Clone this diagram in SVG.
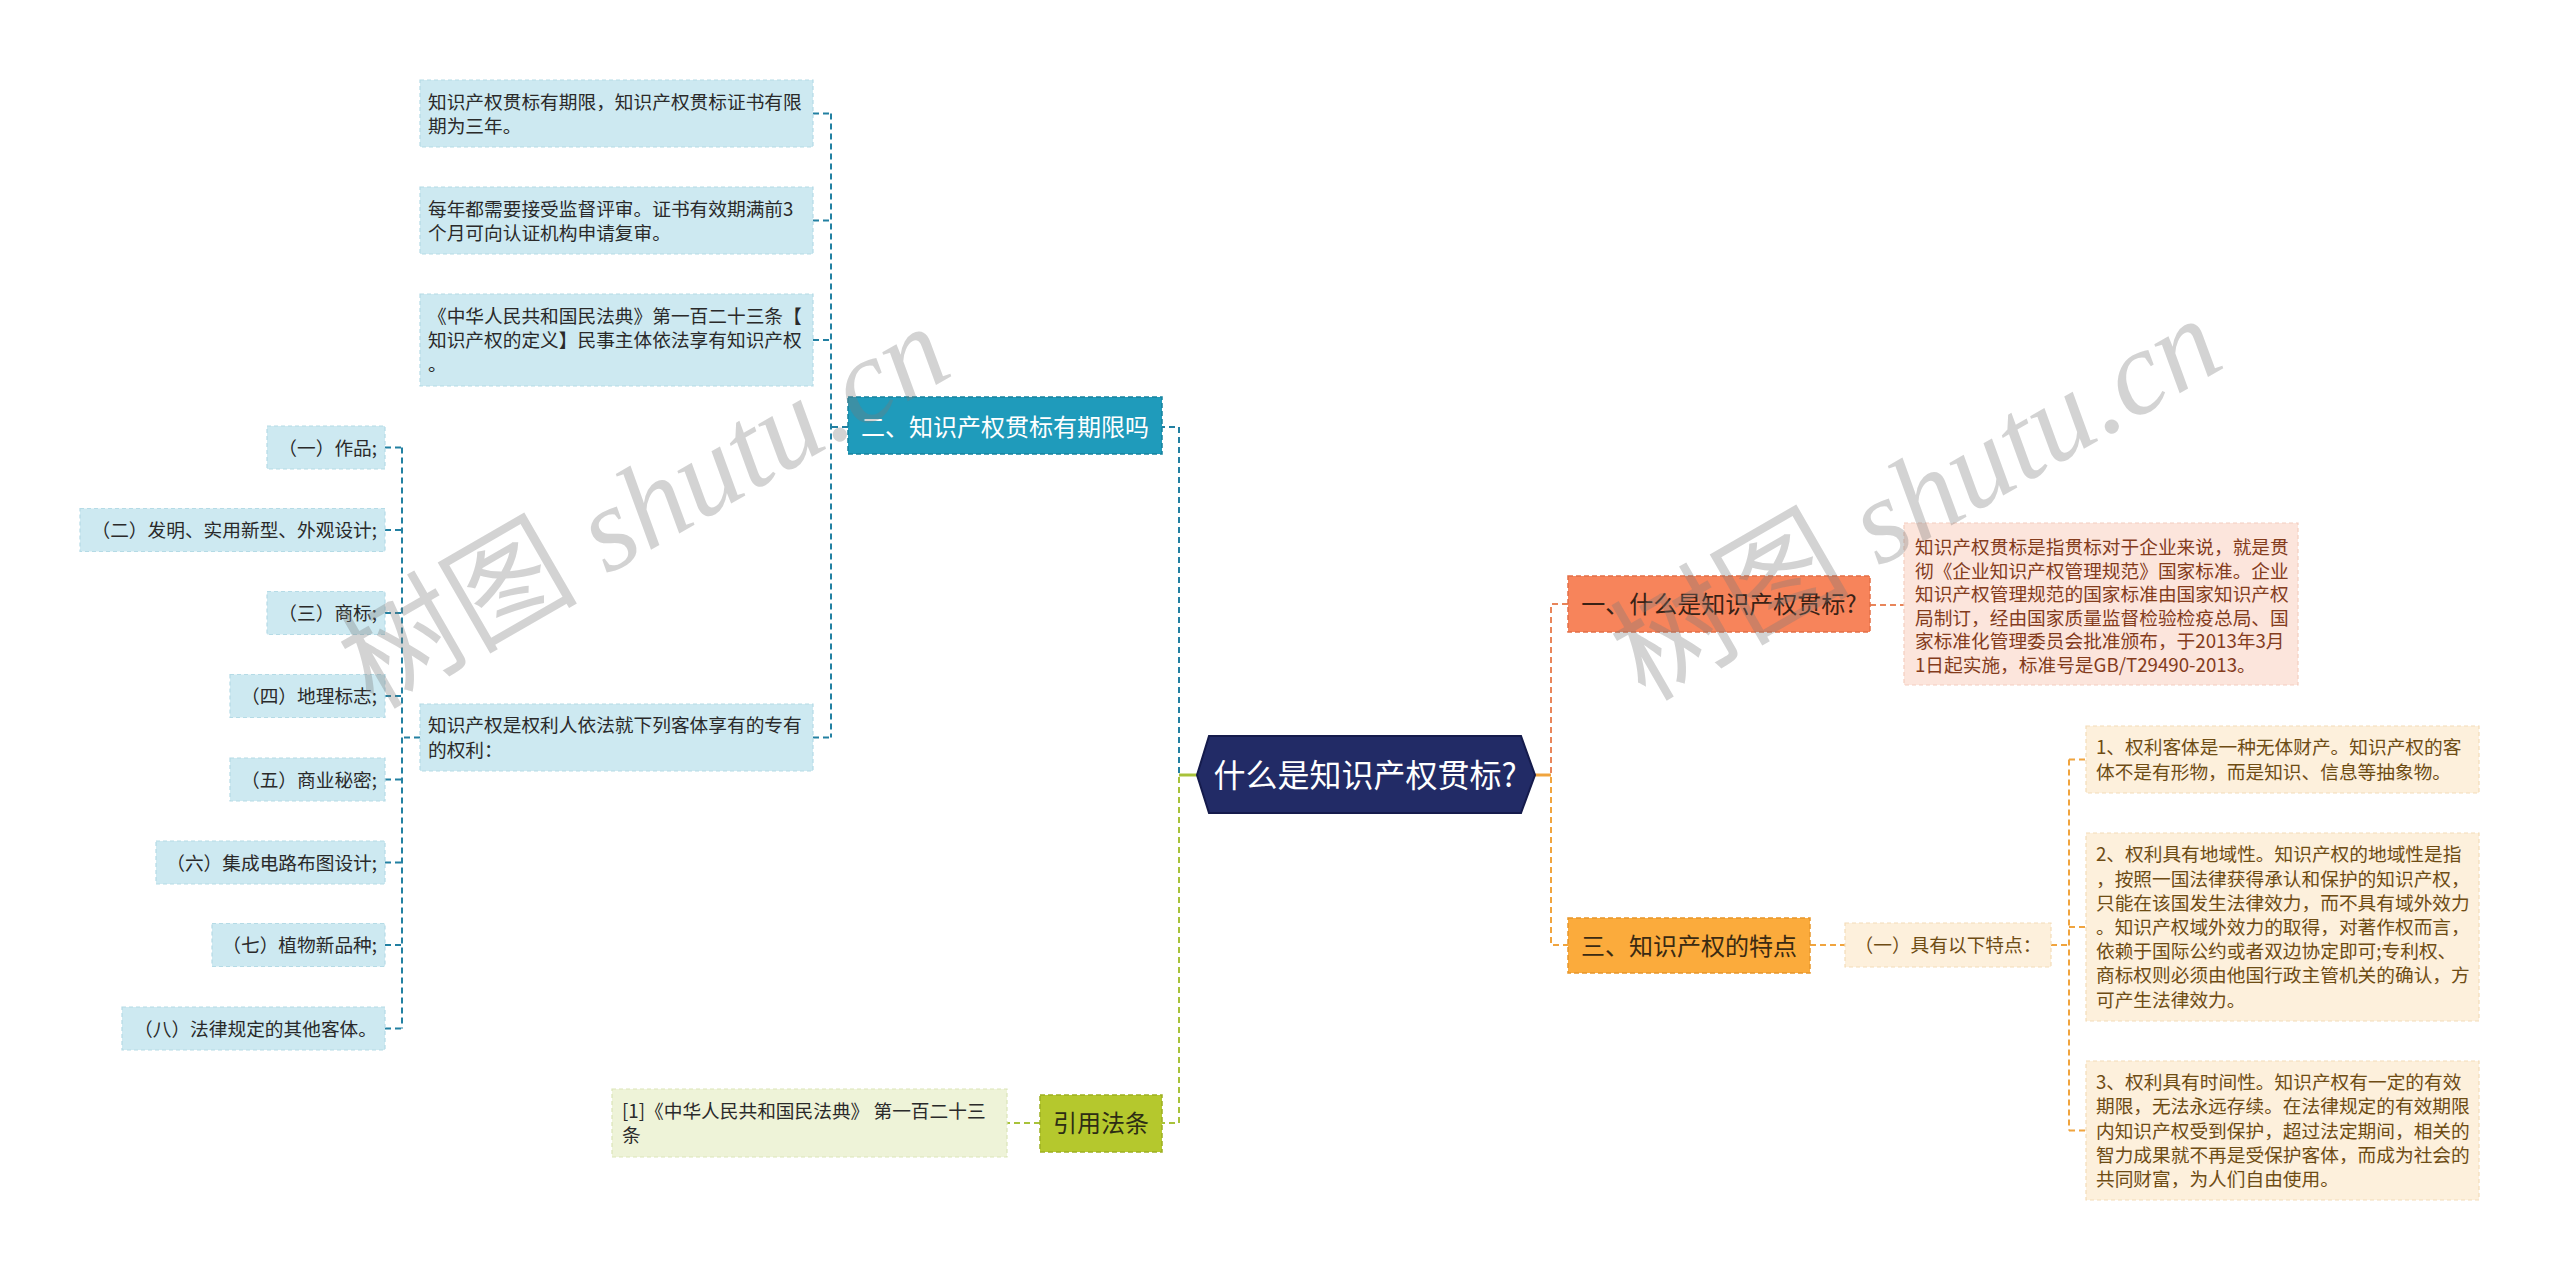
<svg xmlns="http://www.w3.org/2000/svg" width="2560" height="1281" viewBox="0 0 2560 1281">
<style>
text{font-family:"Noto Sans CJK SC","Microsoft YaHei","Liberation Sans",sans-serif}
.leafB{fill:#cde9f1;stroke:#b5dbe6;stroke-width:1.2;stroke-dasharray:4 3}
.leafO{fill:#fce5dc;stroke:#f3cdbf;stroke-width:1.2;stroke-dasharray:4 3}
.leafY{fill:#fdf0dc;stroke:#f4dcb8;stroke-width:1.2;stroke-dasharray:4 3}
.leafG{fill:#eef3d8;stroke:#dbe5b8;stroke-width:1.2;stroke-dasharray:4 3}
.t{font-size:18.7px;fill:#2a2a2a}
.tO{font-size:18.7px;fill:#843c1c}
.tY{font-size:18.7px;fill:#6e4c14}
.br{font-size:24px}
.cB{fill:none;stroke:#2280a2;stroke-width:2;stroke-dasharray:6 4}
.cR{fill:none;stroke:#e8855a;stroke-width:2;stroke-dasharray:6 4}
.cY{fill:none;stroke:#f0a43e;stroke-width:2;stroke-dasharray:6 4}
.cG{fill:none;stroke:#a8c23a;stroke-width:2;stroke-dasharray:6 4}
.wm{font-family:"Liberation Serif","Noto Sans CJK SC",serif;font-size:120px;fill:#7a7a7a;fill-opacity:0.33}
.it{font-style:italic}
</style>
<rect width="2560" height="1281" fill="#ffffff"/>

<g id="connectors">
  <path d="M1197 775 H1179" fill="none" stroke="#a8c23a" stroke-width="3"/>
  <path d="M1535 775 H1551" fill="none" stroke="#f0a43e" stroke-width="3"/>
  <path class="cB" d="M1179 773 V427 H1162"/>
  <path class="cG" d="M1179 777 V1123 H1162"/>
  <path class="cR" d="M1551 773 V604 H1568"/>
  <path class="cY" d="M1551 777 V945 H1568"/>
  <path class="cB" d="M848 427 H831"/>
  <path class="cB" d="M831 113.5 V737.5"/>
  <path class="cB" d="M813 113.5 H831 M813 220.5 H831 M813 340 H831 M813 737.5 H831"/>
  <path class="cB" d="M420 737.5 H402"/>
  <path class="cB" d="M402 447.5 V1028.5"/>
  <path class="cB" d="M385 447.5 H402 M385 530 H402 M385 613 H402 M385 696 H402 M385 779.5 H402 M385 862.5 H402 M385 945 H402 M385 1028.5 H402"/>
  <path class="cG" d="M1040 1123 H1007"/>
  <path class="cR" d="M1870 605 H1904"/>
  <path class="cY" d="M1810 945 H1845"/>
  <path class="cY" d="M2051 945 H2069"/>
  <path class="cY" d="M2069 759.5 V1130.5"/>
  <path class="cY" d="M2069 759.5 H2086 M2069 927 H2086 M2069 1130.5 H2086"/>
</g>

<g id="center">
  <polygon points="1197,775 1209,736 1521,736 1535,775 1521,813 1209,813" fill="#222b66" stroke="#151b4c" stroke-width="2"/>
  <text x="1365" y="787" text-anchor="middle" font-size="32" fill="#ffffff">什么是知识产权贯标?</text>
</g>

<g id="n2">
  <rect x="848" y="397" width="314" height="57" fill="#1f9bbb" stroke="#16839f" stroke-width="1.5" stroke-dasharray="5 3"/>
  <text class="br" x="1005" y="436" text-anchor="middle" fill="#ffffff">二、知识产权贯标有期限吗</text>
</g>

<g id="n2a">
  <rect class="leafB" x="420" y="80" width="393" height="67"/>
  <text class="t" x="428"><tspan x="428" y="108.5">知识产权贯标有期限，知识产权贯标证书有限</tspan><tspan x="428" y="132.7">期为三年。</tspan></text>
</g>
<g id="n2b">
  <rect class="leafB" x="420" y="187" width="393" height="67"/>
  <text class="t" x="428"><tspan x="428" y="215.5">每年都需要接受监督评审。证书有效期满前3</tspan><tspan x="428" y="239.7">个月可向认证机构申请复审。</tspan></text>
</g>
<g id="n2c">
  <rect class="leafB" x="420" y="294" width="393" height="92"/>
  <text class="t" x="428"><tspan x="428" y="322.8">《中华人民共和国民法典》第一百二十三条【</tspan><tspan x="428" y="347">知识产权的定义】民事主体依法享有知识产权</tspan><tspan x="428" y="371.2">。</tspan></text>
</g>
<g id="n2d">
  <rect class="leafB" x="420" y="704" width="393" height="67"/>
  <text class="t" x="428"><tspan x="428" y="732.4">知识产权是权利人依法就下列客体享有的专有</tspan><tspan x="428" y="756.6">的权利：</tspan></text>
</g>

<g id="l1"><rect class="leafB" x="267" y="426" width="118" height="43"/><text class="t" x="377" y="454.5" text-anchor="end">（一）作品;</text></g>
<g id="l2"><rect class="leafB" x="80" y="508.5" width="305" height="43"/><text class="t" x="377" y="537" text-anchor="end">（二）发明、实用新型、外观设计;</text></g>
<g id="l3"><rect class="leafB" x="267" y="591.5" width="118" height="43"/><text class="t" x="377" y="620" text-anchor="end">（三）商标;</text></g>
<g id="l4"><rect class="leafB" x="230" y="674.5" width="155" height="43"/><text class="t" x="377" y="703" text-anchor="end">（四）地理标志;</text></g>
<g id="l5"><rect class="leafB" x="230" y="758" width="155" height="43"/><text class="t" x="377" y="786.5" text-anchor="end">（五）商业秘密;</text></g>
<g id="l6"><rect class="leafB" x="156" y="841" width="229" height="43"/><text class="t" x="377" y="869.5" text-anchor="end">（六）集成电路布图设计;</text></g>
<g id="l7"><rect class="leafB" x="212" y="923.5" width="173" height="43"/><text class="t" x="377" y="952" text-anchor="end">（七）植物新品种;</text></g>
<g id="l8"><rect class="leafB" x="122" y="1007" width="263" height="43"/><text class="t" x="377" y="1035.5" text-anchor="end">（八）法律规定的其他客体。</text></g>

<g id="cite">
  <rect x="1040" y="1095" width="122" height="57" fill="#b5c82d" stroke="#9db021" stroke-width="1.5" stroke-dasharray="5 3"/>
  <text class="br" x="1101" y="1132" text-anchor="middle" fill="#2d2d14">引用法条</text>
</g>
<g id="citeLeaf">
  <rect class="leafG" x="612" y="1089" width="395" height="68"/>
  <text class="t" x="622"><tspan x="622" y="1118">[1]《中华人民共和国民法典》 第一百二十三</tspan><tspan x="622" y="1142.2">条</tspan></text>
</g>

<g id="n1">
  <rect x="1568" y="576" width="302" height="56" fill="#f7845b" stroke="#e46f47" stroke-width="1.5" stroke-dasharray="5 3"/>
  <text class="br" x="1719" y="613" text-anchor="middle" fill="#3a2216">一、什么是知识产权贯标?</text>
</g>
<g id="n1a">
  <rect class="leafO" x="1904" y="523" width="394" height="162"/>
  <text class="tO" x="1915"><tspan x="1915" y="554">知识产权贯标是指贯标对于企业来说，就是贯</tspan><tspan x="1915" y="577.6">彻《企业知识产权管理规范》国家标准。企业</tspan><tspan x="1915" y="601.2">知识产权管理规范的国家标准由国家知识产权</tspan><tspan x="1915" y="624.8">局制订，经由国家质量监督检验检疫总局、国</tspan><tspan x="1915" y="648.4">家标准化管理委员会批准颁布，于2013年3月</tspan><tspan x="1915" y="672">1日起实施，标准号是GB/T29490-2013。</tspan></text>
</g>

<g id="n3">
  <rect x="1568" y="918" width="242" height="55" fill="#fbab3c" stroke="#e8962a" stroke-width="1.5" stroke-dasharray="5 3"/>
  <text class="br" x="1689" y="954.5" text-anchor="middle" fill="#3a2a12">三、知识产权的特点</text>
</g>
<g id="n3a">
  <rect class="leafY" x="1845" y="923" width="206" height="44"/>
  <text class="tY" x="1948" y="952" text-anchor="middle">（一）具有以下特点：</text>
</g>
<g id="n3a1">
  <rect class="leafY" x="2086" y="726" width="393" height="67"/>
  <text class="tY" x="2096"><tspan x="2096" y="754.4">1、权利客体是一种无体财产。知识产权的客</tspan><tspan x="2096" y="778.6">体不是有形物，而是知识、信息等抽象物。</tspan></text>
</g>
<g id="n3a2">
  <rect class="leafY" x="2086" y="833" width="393" height="188"/>
  <text class="tY" x="2096"><tspan x="2096" y="861.4">2、权利具有地域性。知识产权的地域性是指</tspan><tspan x="2096" y="885.6">，按照一国法律获得承认和保护的知识产权，</tspan><tspan x="2096" y="909.8">只能在该国发生法律效力，而不具有域外效力</tspan><tspan x="2096" y="934">。知识产权域外效力的取得，对著作权而言，</tspan><tspan x="2096" y="958.2">依赖于国际公约或者双边协定即可;专利权、</tspan><tspan x="2096" y="982.4">商标权则必须由他国行政主管机关的确认，方</tspan><tspan x="2096" y="1006.6">可产生法律效力。</tspan></text>
</g>
<g id="n3a3">
  <rect class="leafY" x="2086" y="1061" width="393" height="139"/>
  <text class="tY" x="2096"><tspan x="2096" y="1089.1">3、权利具有时间性。知识产权有一定的有效</tspan><tspan x="2096" y="1113.3">期限，无法永远存续。在法律规定的有效期限</tspan><tspan x="2096" y="1137.5">内知识产权受到保护，超过法定期间，相关的</tspan><tspan x="2096" y="1161.7">智力成果就不再是受保护客体，而成为社会的</tspan><tspan x="2096" y="1185.9">共同财富，为人们自由使用。</tspan></text>
</g>

<g id="watermark">
  <text class="wm" x="653" y="545" text-anchor="middle" transform="rotate(-30 653 522)">树图 <tspan class="it">shutu.cn</tspan></text>
  <text class="wm" x="1925" y="537" text-anchor="middle" transform="rotate(-30 1925 514)">树图 <tspan class="it">shutu.cn</tspan></text>
</g>
</svg>
